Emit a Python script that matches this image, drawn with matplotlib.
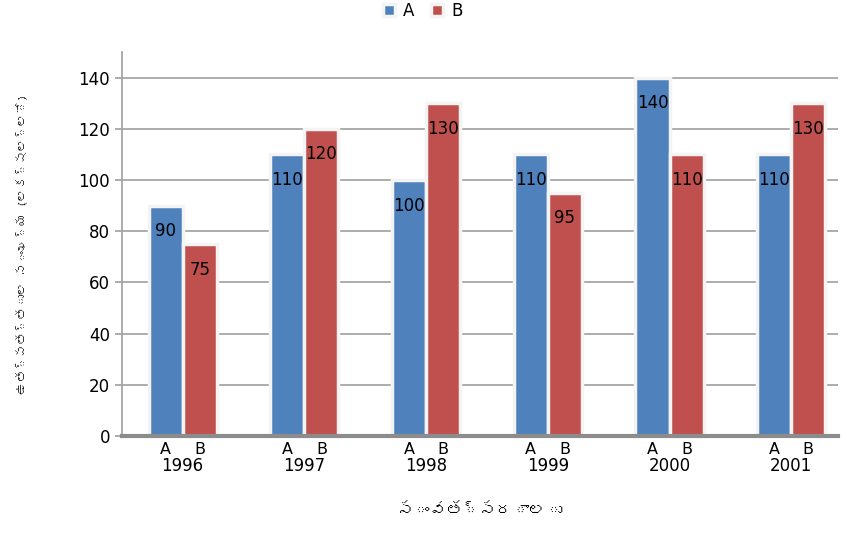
import matplotlib
matplotlib.use("Agg")
import matplotlib.pyplot as plt
from matplotlib import font_manager
from matplotlib.ft2font import FT2Font
import numpy as np

years = ["1996", "1997", "1998", "1999", "2000", "2001"]
series_a = [90, 110, 100, 110, 140, 110]
series_b = [75, 120, 130, 95, 110, 130]
y_ticks = [0, 20, 40, 60, 80, 100, 120, 140]
x_title = "సంవత్సరాలు"
y_title = "ఉత్పత్తుల సంఖ్య (లక్షల్లో)"


def find_telugu_font():
    # look for any installed font with Telugu glyphs
    for path in font_manager.findSystemFonts():
        try:
            cmap = FT2Font(path).get_charmap()
        except Exception:
            continue
        if 0x0C38 in cmap:
            font_manager.fontManager.addfont(path)
            return font_manager.FontProperties(fname=path).get_name()
    return None


tel = find_telugu_font()
tel_family = [tel, "DejaVu Sans"] if tel else ["DejaVu Sans"]

col_a = "#4F81BD"
col_b = "#C0504D"

fig = plt.figure(figsize=(8.46, 5.38), dpi=100)
ax = fig.add_axes([0.144, 0.1896, 0.846, 0.7137])

x = np.arange(len(years))
w = 0.28
off = 0.14

for yt in y_ticks:
    ax.axhline(yt, color="#a6a6a6", lw=1.3, zorder=1)

ba = ax.bar(x - off, series_a, w, color=col_a, edgecolor="#f4f4f4", lw=2.5, zorder=2, label="A")
bb = ax.bar(x + off, series_b, w, color=col_b, edgecolor="#f4f4f4", lw=2.5, zorder=2, label="B")

for xi, v in zip(x - off, series_a):
    ax.text(xi, v - 10, str(v), ha="center", va="center", fontsize=12, zorder=3)
for xi, v in zip(x + off, series_b):
    ax.text(xi, v - 10, str(v), ha="center", va="center", fontsize=12, zorder=3)

ax.set_xlim(-0.5, 5.38)
ax.set_ylim(0, 150)
ax.set_yticks(y_ticks)
ax.tick_params(axis="y", labelsize=12, length=5, color="#a6a6a6", width=1.3)

pos = np.concatenate([x - off, x + off])
labs = ["A"] * len(x) + ["B"] * len(x)
ax.set_xticks(pos)
ax.set_xticklabels(labs, fontsize=11.5)
ax.tick_params(axis="x", length=0, pad=4)
for xi, yr in zip(x, years):
    ax.text(xi, -0.077, yr, transform=ax.get_xaxis_transform(), ha="center", va="center", fontsize=12)

for s in ["top", "right"]:
    ax.spines[s].set_visible(False)
ax.spines["left"].set_color("#a6a6a6")
ax.spines["left"].set_linewidth(1.3)
ax.spines["bottom"].set_color("#8c8c8c")
ax.spines["bottom"].set_linewidth(3)

ax.set_xlabel(x_title, family=tel_family, fontsize=12, labelpad=34)
ax.set_ylabel(y_title, family=tel_family, fontsize=9, labelpad=36)

fig.legend(handles=[ba, bb], loc="upper center", bbox_to_anchor=(0.5, 1.025), ncol=2, frameon=False,
           fontsize=12, handlelength=0.7, handleheight=0.7, columnspacing=1.0, handletextpad=0.5)

fig.savefig("out.png", dpi=100)
